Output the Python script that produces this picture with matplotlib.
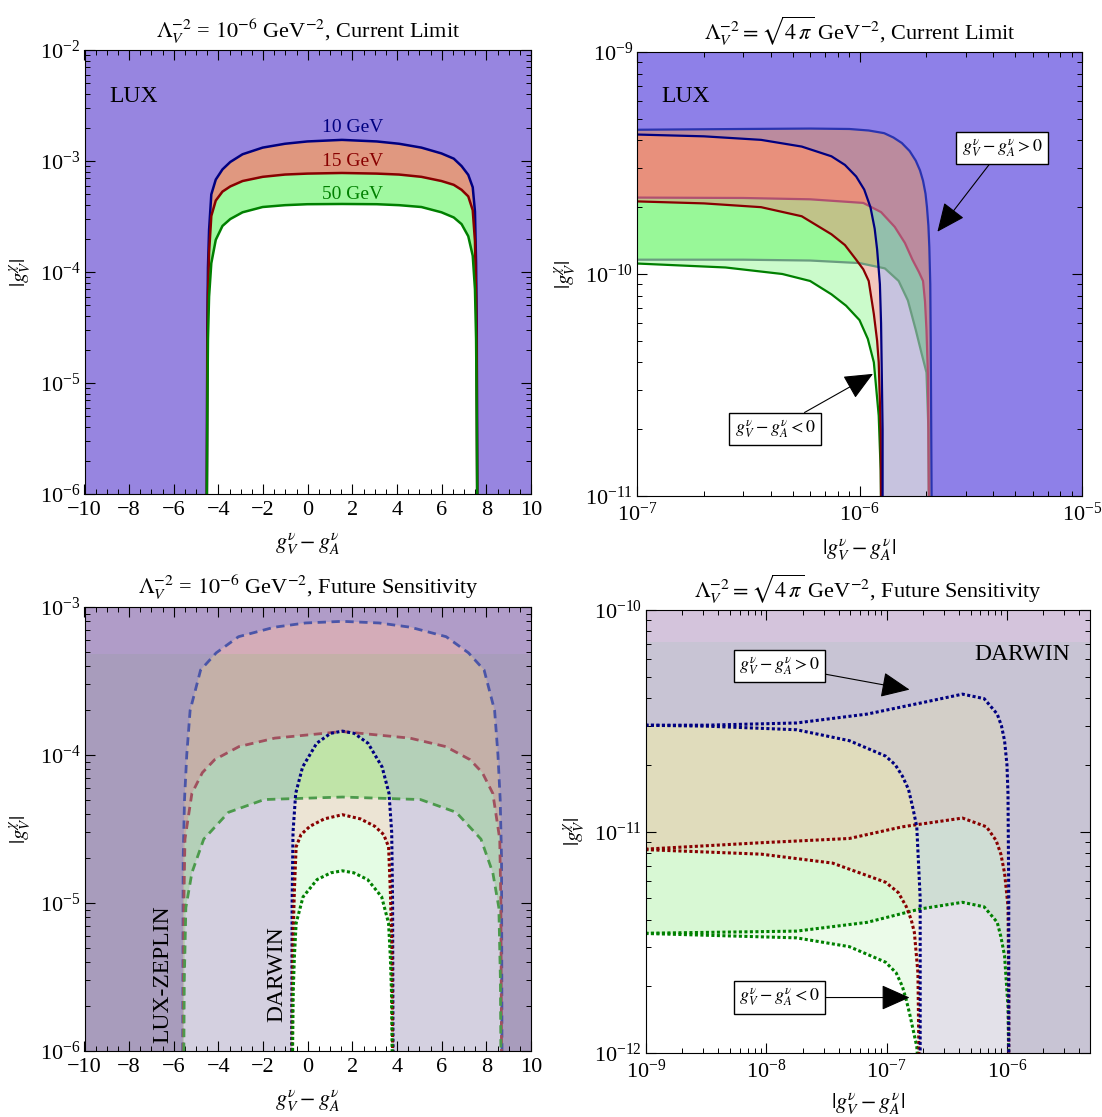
import numpy as np
import matplotlib
matplotlib.use('Agg')
import matplotlib.pyplot as plt
from matplotlib.patches import Rectangle
from matplotlib.ticker import MultipleLocator, LogLocator, NullFormatter

plt.rcParams['font.family'] = 'serif'
plt.rcParams['font.serif'] = ['Liberation Serif', 'DejaVu Serif']
plt.rcParams['mathtext.fontset'] = 'stix'

# ---------------- panel 1 : Lambda^-2 = 1e-6, current limit (LUX) ----------------
p1_x = [-4.52, -4.50, -4.47, -4.42, -4.32, -4.12, -3.82, -3.47, -2.92, -2.02, -1.02, -0.02, 1.53,
        3.09, 4.09, 5.09, 5.99, 6.54, 6.89, 7.19, 7.39, 7.49, 7.54, 7.57, 7.59]
p1_blue = [1e-6, 3e-5, 1.1e-4, 2.4e-4, 5.0e-4, 6.8e-4, 8.4e-4, 9.8e-4, 1.15e-3, 1.32e-3, 1.43e-3, 1.5e-3, 1.55e-3,
           1.5e-3, 1.43e-3, 1.32e-3, 1.17e-3, 1.05e-3, 9.0e-4, 7.5e-4, 5.8e-4, 3.5e-4, 1.2e-4, 3e-5, 1e-6]
p1_red = [1e-6, 1.5e-5, 6e-5, 1.5e-4, 3.2e-4, 4.4e-4, 5.3e-4, 5.9e-4, 6.6e-4, 7.2e-4, 7.55e-4, 7.7e-4, 7.8e-4,
          7.7e-4, 7.55e-4, 7.2e-4, 6.6e-4, 6.1e-4, 5.5e-4, 4.8e-4, 3.6e-4, 1.9e-4, 6e-5, 1.5e-5, 1e-6]
p1_green = [1e-6, 5e-6, 2.5e-5, 6e-5, 1.2e-4, 1.95e-4, 2.6e-4, 3e-4, 3.45e-4, 3.85e-4, 4e-4, 4.08e-4, 4.1e-4,
            4.08e-4, 4e-4, 3.85e-4, 3.45e-4, 3.1e-4, 2.7e-4, 2.1e-4, 1.4e-4, 7e-5, 2.5e-5, 5e-6, 1e-6]

# ---------------- panel 2 : Lambda^-2 = sqrt(4 pi), current limit ----------------
# outer = g_V - g_A > 0, inner = g_V - g_A < 0
p2_blue_out_x = [9e-8, 3e-7, 6e-7, 9e-7, 1.1e-6, 1.29e-6, 1.42e-6, 1.55e-6, 1.68e-6, 1.79e-6, 1.87e-6,
                 1.93e-6, 1.98e-6, 2.01e-6, 2.04e-6, 2.06e-6, 2.08e-6, 2.09e-6, 2.11e-6]
p2_blue_out_y = [4.46e-10, 4.5e-10, 4.52e-10, 4.5e-10, 4.43e-10, 4.31e-10, 4.12e-10, 3.89e-10, 3.58e-10, 3.24e-10, 2.93e-10,
                 2.63e-10, 2.3e-10, 2.0e-10, 1.65e-10, 1.32e-10, 9e-11, 5e-11, 9e-12]
p2_blue_in_x = [9e-8, 2e-7, 3.61e-7, 5.5e-7, 7.48e-7, 8.6e-7, 9.66e-7, 1.05e-6, 1.12e-6, 1.17e-6, 1.2e-6,
                1.235e-6, 1.25e-6, 1.27e-6, 1.27e-6]
p2_blue_in_y = [4.26e-10, 4.17e-10, 4.02e-10, 3.75e-10, 3.39e-10, 3.1e-10, 2.75e-10, 2.4e-10, 2.0e-10, 1.6e-10, 1.29e-10,
                9e-11, 6e-11, 2e-11, 9e-12]
p2_red_out_x = [9e-8, 3e-7, 6e-7, 1.04e-6, 1.25e-6, 1.44e-6, 1.6e-6, 1.73e-6, 1.85e-6, 1.93e-6, 1.97e-6,
                2.0e-6, 2.03e-6, 2.04e-6, 2.05e-6]
p2_red_out_y = [2.21e-10, 2.2e-10, 2.17e-10, 2.09e-10, 1.9e-10, 1.63e-10, 1.38e-10, 1.16e-10, 1.02e-10, 9.3e-11, 7.5e-11,
                5.6e-11, 3.5e-11, 2e-11, 9e-12]
p2_red_in_x = [9e-8, 2e-7, 3.61e-7, 5.5e-7, 7.48e-7, 8.6e-7, 9.66e-7, 1.04e-6, 1.1e-6, 1.16e-6, 1.2e-6,
               1.22e-6, 1.245e-6, 1.25e-6]
p2_red_in_y = [2.13e-10, 2.08e-10, 2.0e-10, 1.82e-10, 1.51e-10, 1.35e-10, 1.16e-10, 1.05e-10, 9.3e-11, 6.6e-11, 5e-11,
               4e-11, 2e-11, 9e-12]
p2_green_out_x = [9e-8, 3e-7, 6e-7, 1.0e-6, 1.3e-6, 1.5e-6, 1.65e-6, 1.79e-6, 1.9e-6, 2.0e-6, 2.04e-6, 2.05e-6]
p2_green_out_y = [1.16e-10, 1.16e-10, 1.15e-10, 1.12e-10, 1.06e-10, 9.3e-11, 7.6e-11, 5.6e-11, 4.4e-11, 3.6e-11, 2e-11, 9e-12]
p2_green_in_x = [9e-8, 2.5e-7, 4.5e-7, 6.0e-7, 7.48e-7, 8.7e-7, 1.0e-6, 1.09e-6, 1.16e-6, 1.22e-6, 1.245e-6, 1.25e-6]
p2_green_in_y = [1.12e-10, 1.07e-10, 1.0e-10, 9.3e-11, 8.1e-11, 7.2e-11, 6.2e-11, 5.1e-11, 4.0e-11, 2.3e-11, 1.3e-11, 9e-12]

# ---------------- panel 3 : Lambda^-2 = 1e-6, future (LZ dashed, DARWIN dotted) ----------------
lz_blue_x = [-5.6, -5.58, -5.52, -5.42, -5.27, -4.8, -4.1, -3.1, -1.5, -0.1, 1.55,
             3.2, 4.6, 6.2, 7.2, 7.9, 8.37, 8.52, 8.62, 8.68, 8.7]
lz_blue_y = [1e-6, 2e-5, 5e-5, 1e-4, 2e-4, 3.75e-4, 4.9e-4, 6.3e-4, 7.3e-4, 7.8e-4, 8e-4,
             7.8e-4, 7.3e-4, 6.3e-4, 4.9e-4, 3.75e-4, 2e-4, 1e-4, 5e-5, 2e-5, 1e-6]
lz_red_x = [-5.58, -5.55, -5.5, -5.19, -4.72, -4.17, -3.08, -1.48, 1.55,
            4.58, 6.18, 7.27, 7.82, 8.29, 8.6, 8.65, 8.68]
lz_red_y = [1e-6, 1e-5, 2.7e-5, 5.5e-5, 7.6e-5, 9.3e-5, 1.14e-4, 1.3e-4, 1.44e-4,
            1.3e-4, 1.14e-4, 9.3e-5, 7.6e-5, 5.5e-5, 2.7e-5, 1e-5, 1e-6]
lz_green_x = [-5.55, -5.53, -5.46, -5.19, -4.66, -3.55, -1.95, 1.55,
              5.05, 6.65, 7.76, 8.29, 8.56, 8.63, 8.65]
lz_green_y = [1e-6, 3e-6, 9.3e-6, 1.6e-5, 2.7e-5, 4.1e-5, 5e-5, 5.2e-5,
              5e-5, 4.1e-5, 2.7e-5, 1.6e-5, 9.3e-6, 3e-6, 1e-6]
dw_blue_x = [-0.72, -0.70, -0.66, -0.54, -0.23, 0.40, 1.02, 1.55, 2.08, 2.70, 3.33, 3.64, 3.76, 3.80, 3.82]
dw_blue_y = [1e-6, 1e-5, 3e-5, 5.5e-5, 8.3e-5, 1.2e-4, 1.4e-4, 1.45e-4, 1.4e-4, 1.2e-4, 8.3e-5, 5.5e-5, 3e-5, 1e-5, 1e-6]
dw_red_x = [-0.70, -0.67, -0.60, -0.52, -0.30, 0.10, 0.74, 1.55, 2.36, 3.0, 3.40, 3.62, 3.70, 3.77, 3.80]
dw_red_y = [1e-6, 5e-6, 1.2e-5, 2.4e-5, 2.9e-5, 3.3e-5, 3.7e-5, 3.95e-5, 3.7e-5, 3.3e-5, 2.9e-5, 2.4e-5, 1.2e-5, 5e-6, 1e-6]
dw_green_x = [-0.68, -0.65, -0.60, -0.52, -0.21, 0.42, 1.04, 1.55, 2.06, 2.68, 3.31, 3.62, 3.70, 3.75, 3.78]
dw_green_y = [1e-6, 2.5e-6, 4.3e-6, 7.3e-6, 1.1e-5, 1.44e-5, 1.6e-5, 1.65e-5, 1.6e-5, 1.44e-5, 1.1e-5, 7.3e-6, 4.3e-6, 2.5e-6, 1e-6]
lux_band_p3 = 4.8e-4

# ---------------- panel 4 : Lambda^-2 = sqrt(4 pi), future (DARWIN) ----------------
p4_blue_out_x = [8.9e-10, 3.16e-9, 1.78e-8, 6.9e-8, 1.9e-7, 4.27e-7, 6.46e-7, 8.3e-7, 9.0e-7, 9.55e-7, 1.0e-6,
                 1.02e-6, 1.035e-6, 1.035e-6]
p4_blue_out_y = [3.02e-11, 3.02e-11, 3.09e-11, 3.39e-11, 3.8e-11, 4.17e-11, 3.98e-11, 3.39e-11, 3.0e-11, 2.57e-11, 2.0e-11,
                 1.48e-11, 5e-12, 9e-13]
p4_blue_in_x = [8.9e-10, 3.16e-9, 1.78e-8, 4.9e-8, 9.8e-8, 1.18e-7, 1.35e-7, 1.52e-7, 1.66e-7, 1.78e-7, 1.9e-7, 1.9e-7]
p4_blue_in_y = [3.02e-11, 2.99e-11, 2.88e-11, 2.57e-11, 2.19e-11, 2.0e-11, 1.78e-11, 1.55e-11, 1.26e-11, 1.05e-11, 5e-12, 9e-13]
p4_red_out_x = [8.9e-10, 9.1e-9, 4.9e-8, 1.35e-7, 4.27e-7, 6.76e-7, 8.13e-7, 8.9e-7, 9.55e-7, 1.02e-6, 1.035e-6, 1.035e-6]
p4_red_out_y = [8.3e-12, 8.9e-12, 9.3e-12, 1.05e-11, 1.15e-11, 1.05e-11, 9.1e-12, 7.9e-12, 6.5e-12, 4.6e-12, 2e-12, 9e-13]
p4_red_in_x = [8.9e-10, 9.1e-9, 3.55e-8, 9.8e-8, 1.25e-7, 1.45e-7, 1.6e-7, 1.7e-7, 1.82e-7, 1.84e-7, 1.86e-7]
p4_red_in_y = [8.3e-12, 7.9e-12, 7.2e-12, 5.9e-12, 5.3e-12, 4.6e-12, 4.0e-12, 3.5e-12, 2.3e-12, 1.4e-12, 9e-13]
p4_green_out_x = [8.9e-10, 1.78e-8, 6.9e-8, 1.9e-7, 4.27e-7, 6.46e-7, 8.3e-7, 8.9e-7, 9.55e-7, 1.02e-6, 1.035e-6]
p4_green_out_y = [3.47e-12, 3.55e-12, 3.89e-12, 4.47e-12, 4.79e-12, 4.57e-12, 3.89e-12, 3.35e-12, 2.75e-12, 1.62e-12, 9e-13]
p4_green_in_x = [8.9e-10, 1.78e-8, 4.9e-8, 9.8e-8, 1.2e-7, 1.35e-7, 1.45e-7, 1.55e-7, 1.78e-7, 1.82e-7]
p4_green_in_y = [3.47e-12, 3.31e-12, 3.02e-12, 2.57e-12, 2.3e-12, 2.0e-12, 1.75e-12, 1.51e-12, 1.07e-12, 9e-13]
darwin_band_p4 = 7.2e-11

NAVY = '#000080'
MAROON = '#880000'
GREEN = '#008000'
FS = 16


def under(ax, x, y, color, alpha=1.0):
    xs = list(x) + [x[0]]
    ys = list(y) + [y[-1]]
    return ax.fill(xs, ys, color=color, lw=0, alpha=alpha)[0]


def above(ax, x, y, color, alpha=1.0, xr=1.0, yt=1.0):
    xs = list(x) + [xr, xr, x[0]]
    ys = list(y) + [y[-1], yt, yt]
    return ax.fill(xs, ys, color=color, lw=0, alpha=alpha)[0]


def between(ax, xo, yo, xi, yi, color, alpha=1.0):
    xs = list(xo) + list(xi)[::-1]
    ys = list(yo) + list(yi)[::-1]
    return ax.fill(xs, ys, color=color, lw=0, alpha=alpha)[0]


def style(ax, logx=False):
    ax.tick_params(which='both', direction='in', top=True, right=True, labelsize=FS)
    ax.tick_params(which='major', length=7, width=0.8)
    ax.tick_params(which='minor', length=3.5, width=0.7)
    ax.tick_params(axis='x', which='major', pad=5)
    ax.tick_params(axis='y', which='major', pad=3)
    ax.set_yscale('log')
    ax.yaxis.set_minor_locator(LogLocator(base=10, subs=np.arange(2, 10)))
    ax.yaxis.set_minor_formatter(NullFormatter())
    if logx:
        ax.set_xscale('log')
        ax.xaxis.set_minor_locator(LogLocator(base=10, subs=np.arange(2, 10)))
        ax.xaxis.set_minor_formatter(NullFormatter())
    else:
        ax.xaxis.set_major_locator(MultipleLocator(2))
        ax.xaxis.set_minor_locator(MultipleLocator(0.5))
    ax.set_ylabel(r'$|g_V^{\chi}|$', fontsize=FS - 1, labelpad=4)


def box_note(ax, text, xy, xytext):
    ax.annotate(text, xy=xy, xytext=xytext, fontsize=13, ha='center', va='center',
                bbox=dict(boxstyle='square,pad=0.3', fc='white', ec='black', lw=1.0),
                arrowprops=dict(arrowstyle='-|>,head_length=0.9,head_width=0.4',
                                mutation_scale=20, color='black', lw=0.8, shrinkA=0, shrinkB=0),
                zorder=6)


W, H = 1102, 1117
fig = plt.figure(figsize=(W / 100, H / 100), dpi=100)
ax1 = fig.add_axes([84.5 / W, 1 - 494 / H, 446.5 / W, 444 / H])
ax2 = fig.add_axes([637 / W, 1 - 496 / H, 445 / W, 444 / H])
ax3 = fig.add_axes([84.5 / W, 1 - 1051 / H, 446.5 / W, 444 / H])
ax4 = fig.add_axes([646 / W, 1 - 1053 / H, 444 / W, 443 / H])

# ---- panel 1
LUX1 = '#9785e0'
ax1.set_facecolor(LUX1)
ax1.fill(p1_x, p1_blue, color='#e09880', lw=0)
ax1.fill(p1_x, p1_red, color='#a0f8a0', lw=0)
ax1.fill(p1_x, p1_green, color='white', lw=0)
ax1.plot(p1_x, p1_blue, color=NAVY, lw=1.8)
ax1.plot(p1_x, p1_red, color=MAROON, lw=1.8)
ax1.plot(p1_x, p1_green, color=GREEN, lw=1.8)
style(ax1)
ax1.set_xlim(-10, 10)
ax1.set_ylim(1e-6, 1e-2)
ax1.text(-8.9, 3.8e-3, 'LUX', fontsize=17, va='center')
ax1.text(2.0, 2.0e-3, '10 GeV', color=NAVY, fontsize=14, ha='center', va='center')
ax1.text(2.0, 9.8e-4, '15 GeV', color=MAROON, fontsize=14, ha='center', va='center')
ax1.text(2.0, 5.0e-4, '50 GeV', color=GREEN, fontsize=14, ha='center', va='center')
ax1.set_xlabel(r'$g_V^{\nu} - g_A^{\nu}$', fontsize=FS, labelpad=8)
ax1.set_title(r'$\Lambda_V^{-2}$ = $10^{-6}$ GeV$^{-2}$, Current Limit', fontsize=FS, pad=9)

# ---- panel 2
LUX2 = '#8e80e8'
ax2.set_facecolor(LUX2)
# branch g_V - g_A > 0 (opaque)
under(ax2, p2_blue_out_x, p2_blue_out_y, '#e8907c')
under(ax2, p2_red_out_x, p2_red_out_y, '#98f898')
under(ax2, p2_green_out_x, p2_green_out_y, 'white')
# branch g_V - g_A < 0 (half transparent)
above(ax2, p2_blue_in_x, p2_blue_in_y, '#9088c0', alpha=0.5, xr=1e-4, yt=1e-8)
between(ax2, p2_blue_in_x, p2_blue_in_y, p2_red_in_x, p2_red_in_y, '#e8907c', alpha=0.5)
between(ax2, p2_red_in_x, p2_red_in_y, p2_green_in_x, p2_green_in_y, '#98f898', alpha=0.5)
under(ax2, p2_green_in_x, p2_green_in_y, 'white', alpha=0.5)
above(ax2, p2_blue_out_x, p2_blue_out_y, LUX2, xr=1e-4, yt=1e-8)
ax2.plot(p2_green_out_x, p2_green_out_y, color='#6a9c80', lw=1.6)
ax2.plot(p2_red_out_x, p2_red_out_y, color='#b05070', lw=1.6)
ax2.plot(p2_blue_out_x, p2_blue_out_y, color='#2a34b0', lw=1.6)
ax2.plot(p2_green_in_x, p2_green_in_y, color=GREEN, lw=1.6)
ax2.plot(p2_red_in_x, p2_red_in_y, color=MAROON, lw=1.6)
ax2.plot(p2_blue_in_x, p2_blue_in_y, color=NAVY, lw=1.6)
style(ax2, logx=True)
ax2.set_xlim(1e-7, 1e-5)
ax2.set_ylim(1e-11, 1e-9)
ax2.text(1.29e-7, 6.3e-10, 'LUX', fontsize=17, va='center')
box_note(ax2, r'$g_V^{\nu} - g_A^{\nu} > 0$', xy=(2.24e-6, 1.55e-10), xytext=(4.37e-6, 3.7e-10))
box_note(ax2, r'$g_V^{\nu} - g_A^{\nu} < 0$', xy=(1.15e-6, 3.55e-11), xytext=(4.17e-7, 2.0e-11))
ax2.set_xlabel(r'$|g_V^{\nu} - g_A^{\nu}|$', fontsize=FS, labelpad=8)
ax2.set_title(r'$\Lambda_V^{-2} = \sqrt{4\,\pi}$ GeV$^{-2}$, Current Limit', fontsize=FS, pad=9)

# ---- panel 3
ax3.set_facecolor('#a89cbc')
ax3.axhspan(lux_band_p3, 1e-2, color='#b09cc8', lw=0)
ax3.fill(lz_blue_x, lz_blue_y, color='#c4b0a8', lw=0)
top_part = ax3.fill(lz_blue_x, lz_blue_y, color='#d4acb8', lw=0)[0]
top_part.set_clip_path(Rectangle((-10, lux_band_p3), 20, 1e-2, transform=ax3.transData))
ax3.fill(lz_red_x, lz_red_y, color='#b4d0b8', lw=0)
ax3.fill(lz_green_x, lz_green_y, color='#d4d0e0', lw=0)
dw_patch = ax3.fill(dw_blue_x, dw_blue_y, color='#ece4d4', lw=0)[0]
inner_red = ax3.fill(lz_red_x, lz_red_y, color='#c0e4a8', lw=0)[0]
inner_red.set_clip_path(dw_patch)
inner_green = ax3.fill(lz_green_x, lz_green_y, color='#ece4d4', lw=0)[0]
inner_green.set_clip_path(dw_patch)
ax3.fill(dw_red_x, dw_red_y, color='#e4fce4', lw=0)
ax3.fill(dw_green_x, dw_green_y, color='white', lw=0)
dash = (0, (3, 2))
dot = (0, (1, 0.8))
ax3.plot(lz_blue_x, lz_blue_y, color='#4a55a8', lw=2.0, ls=dash)
ax3.plot(lz_red_x, lz_red_y, color='#a0505e', lw=2.0, ls=dash)
ax3.plot(lz_green_x, lz_green_y, color='#4c9a4c', lw=2.0, ls=dash)
ax3.plot(dw_blue_x, dw_blue_y, color=NAVY, lw=2.2, ls=dot)
ax3.plot(dw_red_x, dw_red_y, color=MAROON, lw=2.2, ls=dot)
ax3.plot(dw_green_x, dw_green_y, color=GREEN, lw=2.2, ls=dot)
style(ax3)
ax3.set_xlim(-10, 10)
ax3.set_ylim(1e-6, 1e-3)
ax3.text(-6.5, 3.3e-6, 'LUX-ZEPLIN', fontsize=17, rotation=90, ha='center', va='center')
ax3.text(-1.4, 3.3e-6, 'DARWIN', fontsize=17, rotation=90, ha='center', va='center')
ax3.set_xlabel(r'$g_V^{\nu} - g_A^{\nu}$', fontsize=FS, labelpad=8)
ax3.set_title(r'$\Lambda_V^{-2}$ = $10^{-6}$ GeV$^{-2}$, Future Sensitivity', fontsize=FS, pad=9)

# ---- panel 4
GRAY4 = '#c8c4d4'
ax4.set_facecolor(GRAY4)
under(ax4, p4_blue_out_x, p4_blue_out_y, '#e0dcbc')
under(ax4, p4_red_out_x, p4_red_out_y, '#d8f8d4')
under(ax4, p4_green_out_x, p4_green_out_y, 'white')
above(ax4, p4_blue_in_x, p4_blue_in_y, GRAY4, alpha=0.5, xr=1e-4, yt=1e-9)
between(ax4, p4_blue_in_x, p4_blue_in_y, p4_red_in_x, p4_red_in_y, '#e0dcbc', alpha=0.5)
between(ax4, p4_red_in_x, p4_red_in_y, p4_green_in_x, p4_green_in_y, '#d8f8d4', alpha=0.5)
under(ax4, p4_green_in_x, p4_green_in_y, 'white', alpha=0.5)
ax4.axhspan(darwin_band_p4, 1e-9, color='#d4c4dc', lw=0)
for xs, ys, c in [(p4_green_out_x, p4_green_out_y, GREEN), (p4_green_in_x, p4_green_in_y, GREEN),
                  (p4_red_out_x, p4_red_out_y, MAROON), (p4_red_in_x, p4_red_in_y, MAROON),
                  (p4_blue_out_x, p4_blue_out_y, NAVY), (p4_blue_in_x, p4_blue_in_y, NAVY)]:
    ax4.plot(xs, ys, color=c, lw=2.2, ls=dot)
style(ax4, logx=True)
ax4.set_xlim(1e-9, 4.9e-6)
ax4.set_ylim(1e-12, 1e-10)
ax4.text(1.35e-6, 6.3e-11, 'DARWIN', fontsize=17, ha='center', va='center')
box_note(ax4, r'$g_V^{\nu} - g_A^{\nu} > 0$', xy=(1.55e-7, 4.37e-11), xytext=(1.29e-8, 5.6e-11))
box_note(ax4, r'$g_V^{\nu} - g_A^{\nu} < 0$', xy=(1.55e-7, 1.78e-12), xytext=(1.29e-8, 1.78e-12))
ax4.set_xlabel(r'$|g_V^{\nu} - g_A^{\nu}|$', fontsize=FS, labelpad=6)
ax4.set_title(r'$\Lambda_V^{-2} = \sqrt{4\,\pi}$ GeV$^{-2}$, Future Sensitivity', fontsize=FS, pad=9)

fig.savefig('out.png', dpi=100)
